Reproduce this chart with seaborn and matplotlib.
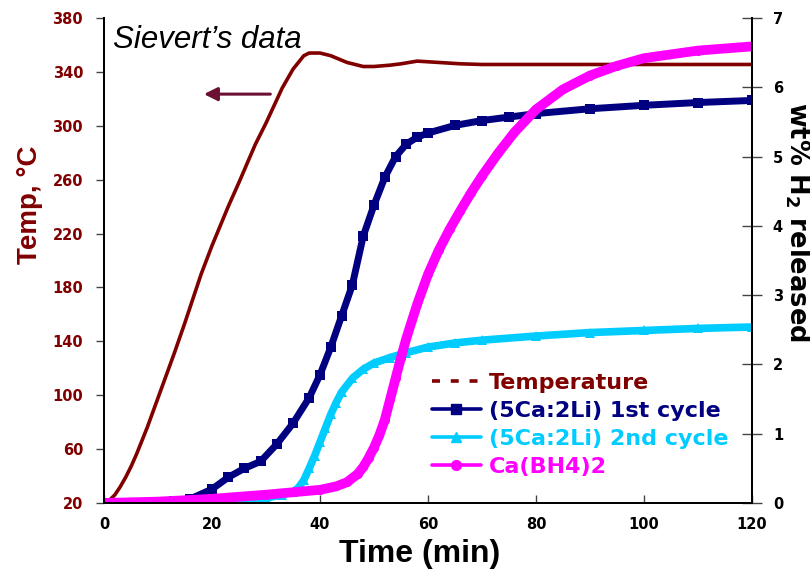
import matplotlib
matplotlib.use("Agg")
import matplotlib.pyplot as plt
from matplotlib.lines import Line2D
import seaborn as sns
import pandas as pd

# Sievert's apparatus run: sample temperature (left axis)
time_temp = [0, 1, 2, 3, 4, 5, 6, 7, 8, 10, 13, 15, 18, 20, 23, 25, 28, 30, 33, 35,
             37, 38, 40, 42, 45, 48, 50, 53, 55, 58, 62, 66, 70, 80, 90, 100, 110, 120]
temperature = [20, 22, 26, 32, 39, 47, 56, 66, 76, 98, 131, 154, 190, 211, 240, 258,
               286, 302, 328, 342, 352, 354, 354, 352, 347, 344, 344, 345, 346, 348,
               347, 346, 345.5, 345.5, 345.5, 345.5, 345.5, 345.5]

# Hydrogen released (right axis), wt% H2
time_c1 = [0, 5, 10, 13, 16, 20, 23, 26, 29, 32, 35, 38, 40, 42, 44, 46, 48, 50,
           52, 54, 56, 58, 60, 65, 70, 75, 80, 90, 100, 110, 120]
wt_c1 = [0, 0, 0.01, 0.03, 0.06, 0.2, 0.37, 0.5, 0.6, 0.85, 1.15, 1.52, 1.85, 2.25,
         2.7, 3.15, 3.85, 4.3, 4.7, 5.0, 5.18, 5.28, 5.34, 5.45, 5.52, 5.57, 5.62,
         5.69, 5.74, 5.78, 5.81]

time_c2 = [0, 10, 20, 25, 30, 33, 35, 36, 37, 38, 39, 40, 41, 42, 43, 44, 46, 48,
           50, 53, 56, 60, 65, 70, 80, 90, 100, 110, 120]
wt_c2 = [0, 0, 0.01, 0.03, 0.07, 0.12, 0.16, 0.22, 0.33, 0.5, 0.68, 0.88, 1.08,
         1.28, 1.45, 1.6, 1.8, 1.93, 2.02, 2.1, 2.17, 2.25, 2.31, 2.35, 2.41, 2.46,
         2.49, 2.52, 2.54]

time_cabh = [0, 10, 20, 30, 40, 43, 45, 47, 48, 49, 50, 51, 52, 53, 54, 55, 56, 58,
             60, 62, 64, 66, 68, 70, 73, 76, 80, 85, 90, 95, 100, 110, 120]
wt_cabh = [0, 0.02, 0.06, 0.12, 0.19, 0.24, 0.3, 0.42, 0.52, 0.65, 0.8, 0.98, 1.2,
           1.5, 1.8, 2.1, 2.38, 2.87, 3.3, 3.65, 3.95, 4.22, 4.48, 4.72, 5.05, 5.35,
           5.68, 5.97, 6.17, 6.31, 6.42, 6.53, 6.59]

labels = ["Temperature", "(5Ca:2Li) 1st cycle", "(5Ca:2Li) 2nd cycle", "Ca(BH4)2"]
colors = ["#800000", "#000080", "#00CCFF", "#FF00FF"]

x_ticks = [0, 20, 40, 60, 80, 100, 120]
temp_ticks = [20, 60, 100, 140, 180, 220, 260, 300, 340, 380]
wt_ticks = [0, 1, 2, 3, 4, 5, 6, 7]

sns.set_theme(style="white")
plt.rcParams["font.family"] = ["Liberation Sans", "DejaVu Sans"]
plt.rcParams["mathtext.fontset"] = "custom"
plt.rcParams["mathtext.bf"] = "DejaVu Sans:bold"
plt.rcParams["mathtext.rm"] = "DejaVu Sans:bold"
plt.rcParams["mathtext.default"] = "bf"

fig = plt.figure(figsize=(8.10, 5.71), dpi=100)
ax = fig.add_axes([104 / 810, 1 - 503 / 571, 648 / 810, 485 / 571])
ax2 = ax.twinx()

df_temp = pd.DataFrame({"t": time_temp, "T": temperature})
sns.lineplot(data=df_temp, x="t", y="T", ax=ax, color=colors[0], lw=2.6,
             estimator=None, sort=False)

df_c1 = pd.DataFrame({"t": time_c1, "wt": wt_c1})
df_c2 = pd.DataFrame({"t": time_c2, "wt": wt_c2})
df_cabh = pd.DataFrame({"t": time_cabh, "wt": wt_cabh})
sns.lineplot(data=df_c1, x="t", y="wt", ax=ax2, color=colors[1], lw=5,
             marker="s", markersize=7, markeredgewidth=0, estimator=None, sort=False)
sns.lineplot(data=df_c2, x="t", y="wt", ax=ax2, color=colors[2], lw=5.5,
             marker="^", markersize=7, markeredgewidth=0, estimator=None, sort=False)
sns.lineplot(data=df_cabh, x="t", y="wt", ax=ax2, color=colors[3], lw=7,
             marker="o", markersize=6.5, markeredgewidth=0, estimator=None, sort=False)

ax.set_xlim(0, 120)
ax.set_ylim(20, 380)
ax2.set_ylim(0, 7)
ax.set_xticks(x_ticks)
ax.set_yticks(temp_ticks)
ax2.set_yticks(wt_ticks)
ax.set_xlabel("")
ax.set_ylabel("")
ax2.set_xlabel("")
ax2.set_ylabel("")

tick_font = dict(family="DejaVu Sans", weight="bold", size=10.5)
ax.set_xticklabels([str(v) for v in x_ticks], fontdict=tick_font, color="black")
ax.set_yticklabels([str(v) for v in temp_ticks], fontdict=tick_font, color="#800000")
ax2.set_yticklabels([str(v) for v in wt_ticks], fontdict=tick_font, color="black")

for a in (ax, ax2):
    a.spines["top"].set_visible(False)
    for s in ("left", "right", "bottom"):
        a.spines[s].set_color("black")
        a.spines[s].set_linewidth(1.4)
ax.tick_params(axis="x", direction="in", length=6, width=1, color="#444444", pad=10)
ax.tick_params(axis="y", direction="out", length=6, width=1, color="#444444", pad=9)
ax2.tick_params(axis="y", direction="inout", length=14, width=1, color="#444444", pad=8)
ax.tick_params(left=True, bottom=True)
ax2.tick_params(right=True)

# axis titles
fig.text(30 / 810, 1 - 205 / 571, "Temp, °C", rotation=90, ha="center", va="center",
         fontsize=20, fontweight="bold", color="#800000")
fig.text(797 / 810, 1 - 222 / 571, "wt% H$_2$ released", rotation=270, ha="center",
         va="center", fontsize=18.5, fontweight="bold", color="black",
         family="DejaVu Sans")
fig.text(420 / 810, 1 - 554 / 571, "Time (min)", ha="center", va="center",
         fontsize=23, fontweight="bold", color="black",
         family=["Liberation Sans Narrow", "Liberation Sans"])

# annotation for the temperature trace
ax.text(1.7, 364, "Sievert\u2019s data", fontsize=22.5, style="italic", color="black",
        ha="left", va="center", family="Liberation Sans")
ax.annotate("", xy=(18.5, 323.5), xytext=(30.8, 323.5),
            arrowprops=dict(arrowstyle="-|>", color="#6B1033", lw=2.2,
                            mutation_scale=20, shrinkA=0, shrinkB=0))

handles = [
    Line2D([], [], color=colors[0], lw=2.6, linestyle=(0, (2.2, 3.0))),
    Line2D([], [], color=colors[1], lw=2.6, marker="s", markersize=7),
    Line2D([], [], color=colors[2], lw=2.6, marker="^", markersize=7),
    Line2D([], [], color=colors[3], lw=2.6, marker="o", markersize=7),
]
leg = fig.legend(handles, labels, loc="upper left", bbox_to_anchor=(432 / 810, 1 - 373 / 571),
                 frameon=False, handlelength=2.2, handletextpad=0.35, labelspacing=0.36,
                 borderpad=0, borderaxespad=0,
                 prop=dict(family="DejaVu Sans", weight="bold", size=16))
for txt, c in zip(leg.get_texts(), colors):
    txt.set_color(c)

fig.savefig("out.png", dpi=100)
